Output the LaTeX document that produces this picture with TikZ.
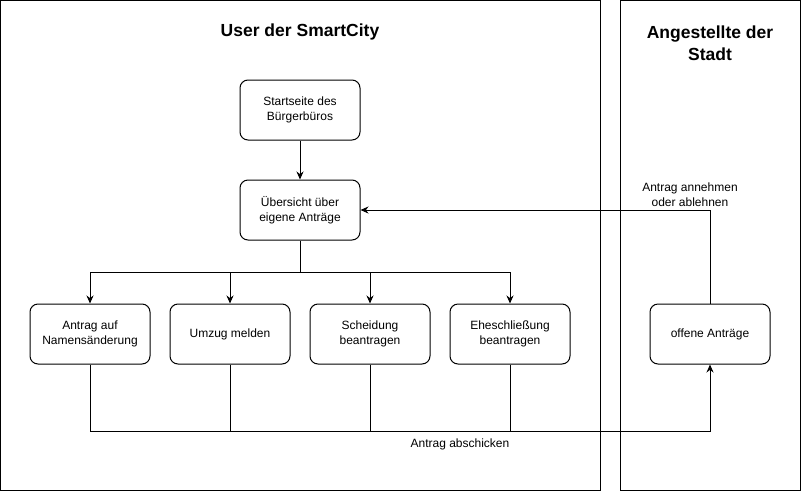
\documentclass[tikz,border=0pt]{standalone}
\usepackage{fontspec}
\setmainfont{Liberation Sans}
\usetikzlibrary{arrows.meta}
\begin{document}
\begin{tikzpicture}[x=1pt,y=-1pt,
  box/.style={draw,line width=1pt,rounded corners=8pt,minimum width=120pt,minimum height=60pt,inner sep=0pt,align=center,font=\fontsize{12}{15.5}\selectfont},
  lane/.style={draw,line width=1pt},
  title/.style={font=\fontsize{17.5}{22}\selectfont\bfseries,align=center},
  lbl/.style={font=\fontsize{12}{15}\selectfont,align=center,inner sep=0pt},
  conn/.style={line width=1pt},
  arr/.style={conn,-{Stealth[length=8pt,width=7pt]}}]
\useasboundingbox (0,0) rectangle (801,491);
\path[lane] (0.5,0.5) rectangle (600.5,490.5);
\path[lane] (620.5,0.5) rectangle (800.5,490.5);
\node[title] (t1) at (300,32) {User der SmartCity};
\node[title] (t2) at (710,43) {Angestellte der\\Stadt};
\node[box] (start) at (300,110) {Startseite des\\Bürgerbüros};
\node[box] (uebers) at (300,210) {Übersicht über\\eigene Anträge};
\node[box] (name) at (90,334) {Antrag auf\\Namensänderung};
\node[box] (umzug) at (230,334) {Umzug melden};
\node[box] (scheid) at (370,334) {Scheidung\\beantragen};
\node[box] (ehe) at (510,334) {Eheschließung\\beantragen};
\node[box] (offen) at (710,334) {offene Anträge};
\coordinate (split) at (300,272);
\coordinate (join) at (90,431);
\draw[arr] (start) -- (uebers);
\draw[conn] (uebers.south) -- (split);
\draw[arr] (split) -| (name.north);
\draw[arr] (split) -| (umzug.north);
\draw[arr] (split) -| (scheid.north);
\draw[arr] (split) -| (ehe.north);
\draw[conn] (name.south) -- (join);
\draw[conn] (umzug.south) |- (join);
\draw[conn] (scheid.south) |- (join);
\draw[conn] (ehe.south) |- (join);
\draw[arr] (join) -| (offen.south);
\draw[arr] (offen.north) |- (uebers.east);
\node[lbl] (l1) at (460,444) {Antrag abschicken};
\node[lbl] (l2) at (690,195) {Antrag annehmen\\oder ablehnen};
\end{tikzpicture}
\end{document}
